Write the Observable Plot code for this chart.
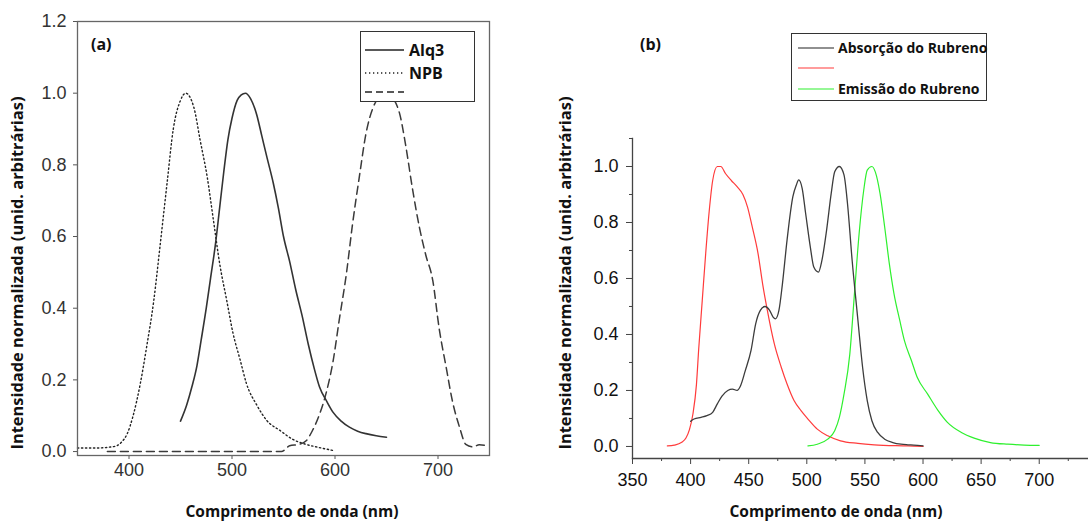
<!DOCTYPE html>
<html>
<head>
<meta charset="utf-8">
<script src="https://cdn.jsdelivr.net/npm/d3@7"></script>
<script src="https://cdn.jsdelivr.net/npm/@observablehq/plot@0.6"></script>
<style>
  html, body { margin: 0; padding: 0; background: #fff; }
  #fig { position: relative; width: 1088px; height: 522px; overflow: hidden; background: #fff; }
  .panel { position: absolute; top: 0; width: 544px; height: 522px; }
  .panel svg text { font-size: 18px; font-family: "Liberation Sans", Arial, sans-serif; }
  .ttl { position: absolute; font-family: "Open Sans", sans-serif; font-weight: 700; color: #111; white-space: nowrap; line-height: 1; }
  .ytitle { transform: translate(-50%, -50%) rotate(-90deg); }
  .xtitle { transform: translate(-50%, -50%); }
  .legend { position: absolute; border: 1.5px solid #333; background: #fff; box-sizing: border-box; }
  .legend svg { position: absolute; left: 0; top: 0; overflow: visible; }
</style>
</head>
<body>
<div id="fig">
  <div id="pa" class="panel" style="left:0"></div>
  <div id="pb" class="panel" style="left:544px"></div>
</div>
<script>
// ---------- Panel (a) data ----------
const alq3X = [450, 456, 461, 466, 470, 475, 479, 484, 488, 492, 496, 500, 505, 509, 513, 518, 524, 529, 534, 540, 545, 550, 556, 562, 568, 574, 580, 585, 592, 598, 606, 614, 622, 630, 640, 650];
const alq3Y = [0.085, 0.13, 0.18, 0.24, 0.31, 0.40, 0.48, 0.58, 0.68, 0.78, 0.87, 0.93, 0.98, 0.995, 1.0, 0.985, 0.94, 0.88, 0.82, 0.75, 0.68, 0.60, 0.53, 0.45, 0.38, 0.30, 0.23, 0.18, 0.14, 0.11, 0.085, 0.068, 0.057, 0.05, 0.044, 0.04];
const npbX = [350, 360, 370, 380, 388, 393, 398, 404, 411, 417, 424, 430, 437, 443, 450, 455, 463, 469, 476, 482, 488, 495, 501, 508, 514, 524, 534, 547, 559, 572, 585, 600];
const npbY = [0.01, 0.01, 0.01, 0.012, 0.016, 0.027, 0.048, 0.10, 0.19, 0.29, 0.42, 0.57, 0.75, 0.90, 0.98, 1.0, 0.96, 0.87, 0.765, 0.645, 0.525, 0.42, 0.33, 0.255, 0.19, 0.13, 0.086, 0.058, 0.034, 0.02, 0.011, 0.002];
const thirdX = [379, 400, 450, 500, 548, 556, 565, 572, 578, 585, 592, 598, 604, 611, 617, 624, 630, 637, 643, 650, 656, 663, 669, 675, 682, 688, 695, 701, 708, 714, 721, 727, 734, 740, 749];
const thirdY = [0, 0, 0, 0, 0, 0.016, 0.02, 0.03, 0.058, 0.104, 0.17, 0.25, 0.365, 0.495, 0.634, 0.774, 0.886, 0.96, 0.988, 0.993, 0.985, 0.94, 0.848, 0.737, 0.625, 0.55, 0.476, 0.346, 0.234, 0.141, 0.067, 0.02, 0.013, 0.019, 0.016];
const aLegend = ["Alq3", "NPB", ""];
const aTicksX = [400, 500, 600, 700];
const aTicksY = [0, 0.2, 0.4, 0.6, 0.8, 1.0, 1.2];

// ---------- Panel (b) data ----------
const absX = [400, 403, 409, 414, 419, 423, 427, 432, 436, 440, 443, 447, 452, 456, 460, 464, 468, 471, 473, 476, 479, 483, 488, 491, 493, 496, 499, 503, 506, 510, 513, 517, 521, 524, 528, 532, 535, 539, 544, 548, 552, 556, 561, 567, 574, 581, 587, 592, 600];
const absY = [0.09, 0.098, 0.104, 0.11, 0.122, 0.152, 0.18, 0.2, 0.205, 0.2, 0.217, 0.27, 0.343, 0.438, 0.486, 0.5, 0.486, 0.462, 0.456, 0.486, 0.58, 0.737, 0.892, 0.934, 0.952, 0.922, 0.832, 0.713, 0.641, 0.623, 0.665, 0.772, 0.904, 0.981, 1.0, 0.97, 0.868, 0.665, 0.45, 0.283, 0.164, 0.092, 0.05, 0.026, 0.014, 0.008, 0.006, 0.005, 0.002];
const redX = [380, 386, 392, 396, 399, 402, 405, 407, 410, 413, 416, 419, 423, 426, 430, 435, 440, 445, 449, 453, 458, 462, 466, 472, 478, 483, 489, 495, 501, 509, 518, 529, 544, 558, 587, 600];
const redY = [0.002, 0.005, 0.014, 0.03, 0.06, 0.116, 0.22, 0.35, 0.52, 0.69, 0.84, 0.95, 1.0, 1.0, 0.975, 0.95, 0.928, 0.9, 0.855, 0.785, 0.69, 0.58, 0.487, 0.367, 0.283, 0.223, 0.164, 0.128, 0.098, 0.062, 0.038, 0.02, 0.011, 0.006, 0.002, 0.0];
const greenX = [501, 509, 518, 524, 528, 532, 537, 541, 545, 549, 552, 556, 559, 563, 567, 571, 575, 580, 584, 590, 595, 604, 613, 621, 633, 644, 658, 673, 687, 700];
const greenY = [0.002, 0.008, 0.026, 0.056, 0.104, 0.187, 0.33, 0.546, 0.76, 0.916, 0.987, 1.0, 0.98, 0.904, 0.784, 0.653, 0.546, 0.45, 0.378, 0.307, 0.247, 0.187, 0.128, 0.086, 0.05, 0.03, 0.014, 0.008, 0.005, 0.004];
const bLegend = ["Absorção do Rubreno", "", "Emissão do Rubreno"];
const bTicksX = [350, 400, 450, 500, 550, 600, 650, 700];
const bMinorX = [375, 425, 475, 525, 575, 625, 675, 725];
const bTicksY = [0, 0.2, 0.4, 0.6, 0.8, 1.0];
const bMinorY = [0.1, 0.3, 0.5, 0.7, 0.9, 1.1];

const xTitle = "Comprimento de onda (nm)";
const yTitle = "Intensidade normalizada (unid. arbitrárias)";

const zip = (xs, ys) => xs.map((x, i) => ({x, y: ys[i]}));

// ---------- Panel (a) ----------
const plotA = Plot.plot({
  width: 544, height: 522,
  marginLeft: 77, marginRight: 55, marginTop: 21, marginBottom: 67,
  style: "background: transparent; overflow: visible; font-size: 18px; font-family: 'Liberation Sans', Arial, sans-serif;",
  x: {domain: [350, 750]},
  y: {domain: [-0.011, 1.2]},
  marks: [
    Plot.axisX({ticks: aTicksX, tickSize: 4, tickPadding: 4, label: null, stroke: "#555", fill: "#333"}),
    Plot.axisY({ticks: aTicksY, tickSize: 4, tickPadding: 7, tickFormat: d3.format(".1f"), label: null, stroke: "#555", fill: "#333"}),
    Plot.line(zip(npbX, npbY), {x: "x", y: "y", stroke: "#222", strokeWidth: 1.4, strokeDasharray: "1.3,2.7", curve: "monotone-x"}),
    Plot.line(zip(thirdX, thirdY), {x: "x", y: "y", stroke: "#3a3a3a", strokeWidth: 1.5, strokeDasharray: "8,5", curve: "monotone-x"}),
    Plot.line(zip(alq3X, alq3Y), {x: "x", y: "y", stroke: "#333", strokeWidth: 1.6, curve: "monotone-x"}),
    Plot.frame({stroke: "#666", strokeWidth: 1.3})
  ]
});
document.getElementById("pa").appendChild(plotA);

// ---------- Panel (b) ----------
const plotB = Plot.plot({
  width: 544, height: 522,
  marginLeft: 88, marginRight: 0, marginTop: 138, marginBottom: 64,
  style: "background: transparent; overflow: visible; font-size: 18px; font-family: 'Liberation Sans', Arial, sans-serif;",
  x: {domain: [350, 742.4]},
  y: {domain: [-0.043, 1.1]},
  marks: [
    Plot.axisX({ticks: bTicksX, tickSize: 6, tickPadding: 9, label: null, stroke: "#444", fill: "#111"}),
    Plot.axisX({ticks: bMinorX, tickSize: 3, tickFormat: () => "", label: null, stroke: "#444"}),
    Plot.axisY({ticks: bTicksY, tickSize: 6, tickPadding: 8, tickFormat: d3.format(".1f"), label: null, stroke: "#444", fill: "#111"}),
    Plot.axisY({ticks: bMinorY, tickSize: 3, tickFormat: () => "", label: null, stroke: "#444"}),
    Plot.frame({anchor: "left", stroke: "#444", strokeWidth: 1.3}),
    Plot.frame({anchor: "bottom", stroke: "#444", strokeWidth: 1.3}),
    Plot.line(zip(redX, redY), {x: "x", y: "y", stroke: "#ff3b3b", strokeWidth: 1.2, curve: "monotone-x"}),
    Plot.line(zip(greenX, greenY), {x: "x", y: "y", stroke: "#2ef02e", strokeWidth: 1.2, curve: "monotone-x"}),
    Plot.line(zip(absX, absY), {x: "x", y: "y", stroke: "#3c3c3c", strokeWidth: 1.3, curve: "monotone-x"})
  ]
});
document.getElementById("pb").appendChild(plotB);

// ---------- Text overlays ----------
const fig = document.getElementById("fig");
function addText(txt, cls, css) {
  const d = document.createElement("div");
  d.className = cls;
  d.textContent = txt;
  Object.assign(d.style, css);
  fig.appendChild(d);
  return d;
}
addText(yTitle, "ttl ytitle", {left: "17px", top: "273px", fontSize: "16.4px"});
addText(yTitle, "ttl ytitle", {left: "565px", top: "273px", fontSize: "16.4px"});
addText(xTitle, "ttl xtitle", {left: "292px", top: "512px", fontSize: "15.5px"});
addText(xTitle, "ttl xtitle", {left: "836px", top: "512px", fontSize: "15.5px"});
addText("(a)", "ttl", {left: "91px", top: "36px", fontSize: "16px"});
addText("(b)", "ttl", {left: "640px", top: "36px", fontSize: "16px"});

// Legends
function legend(box, entries, styles, lineX0, lineX1, textX, rowYs, fontSize) {
  const lg = document.createElement("div");
  lg.className = "legend";
  Object.assign(lg.style, {left: box[0] + "px", top: box[1] + "px", width: (box[2] - box[0]) + "px", height: (box[3] - box[1]) + "px"});
  const ns = "http://www.w3.org/2000/svg";
  const svg = document.createElementNS(ns, "svg");
  svg.setAttribute("width", box[2] - box[0]);
  svg.setAttribute("height", box[3] - box[1]);
  entries.forEach((name, i) => {
    const y = rowYs[i] - box[1];
    const l = document.createElementNS(ns, "line");
    l.setAttribute("x1", lineX0 - box[0]); l.setAttribute("x2", lineX1 - box[0]);
    l.setAttribute("y1", y); l.setAttribute("y2", y);
    for (const k in styles[i]) l.setAttribute(k, styles[i][k]);
    svg.appendChild(l);
    const t = document.createElementNS(ns, "text");
    t.setAttribute("x", textX - box[0]); t.setAttribute("y", y);
    t.setAttribute("dy", "0.35em");
    t.setAttribute("font-family", "'Open Sans', sans-serif");
    t.setAttribute("font-weight", "700");
    t.setAttribute("font-size", fontSize);
    t.setAttribute("fill", "#111");
    t.textContent = name;
    svg.appendChild(t);
  });
  lg.appendChild(svg);
  fig.appendChild(lg);
}
legend([360, 31, 475, 102], aLegend,
  [{stroke: "#222", "stroke-width": 1.6},
   {stroke: "#222", "stroke-width": 1.4, "stroke-dasharray": "1.3,2.7"},
   {stroke: "#222", "stroke-width": 1.6, "stroke-dasharray": "7,4"}],
  364, 403, 408, [49, 72, 91], 16);
legend([791, 33, 987, 101], bLegend,
  [{stroke: "#222", "stroke-width": 1.1},
   {stroke: "#ff3b3b", "stroke-width": 1.1},
   {stroke: "#2ef02e", "stroke-width": 1.1}],
  797, 833, 837, [47, 67, 88], 14);
</script>
</body>
</html>
